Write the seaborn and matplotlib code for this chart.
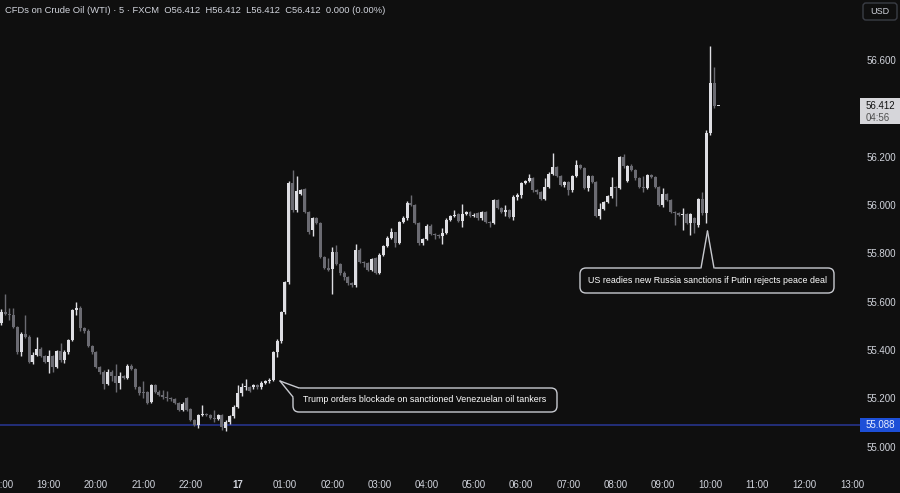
import numpy as np
import pandas as pd
import matplotlib
matplotlib.use("Agg")
import matplotlib.pyplot as plt
import matplotlib.transforms as mtransforms
from matplotlib.patches import FancyBboxPatch, Polygon, Rectangle
import seaborn as sns

# -------------------------
# Data: 5-minute candles, WTI CFD (FXCM)
# -------------------------

opens = [
    55.51, 55.556, 55.55, 55.545, 55.495, 55.39, 55.465, 55.455, 55.35, 55.38,
    55.405, 55.375, 55.35, 55.375, 55.33, 55.395, 55.36, 55.39, 55.44, 55.565,
    55.575, 55.49, 55.48, 55.415, 55.39, 55.33, 55.31, 55.26, 55.31, 55.29,
    55.265, 55.29, 55.285, 55.335, 55.32, 55.245, 55.225, 55.225, 55.185, 55.255,
    55.225, 55.215, 55.205, 55.20, 55.195, 55.18, 55.15, 55.20, 55.155, 55.11,
    55.09, 55.13, 55.135, 55.13, 55.12, 55.115, 55.13, 55.078, 55.10, 55.125,
    55.165, 55.22, 55.245, 55.247, 55.245, 55.255, 55.245, 55.265, 55.27, 55.275,
    55.39, 55.435, 55.555, 55.68, 56.09, 55.98, 56.045, 56.065, 55.97, 55.895,
    55.945, 55.925, 55.785, 55.74, 55.735, 55.805, 55.755, 55.72, 55.70, 55.677,
    55.668, 55.815, 55.765, 55.76, 55.73, 55.78, 55.72, 55.793, 55.83, 55.863,
    55.888, 55.843, 55.93, 55.946, 56.008, 56.0, 55.925, 55.843, 55.86, 55.913,
    55.88, 55.875, 55.87, 55.885, 55.94, 55.953, 55.963, 55.935, 55.963, 55.97,
    55.953, 55.965, 55.945, 55.97, 55.93, 55.925, 56.02, 55.988, 55.97, 55.98,
    55.95, 56.033, 56.04, 56.09, 56.10, 56.11, 56.062, 56.053, 56.025, 56.075,
    56.13, 56.157, 56.12, 56.083, 56.095, 56.062, 56.12, 56.166, 56.153, 56.07,
    56.12, 56.095, 55.955, 55.983, 56.012, 56.037, 56.075, 56.07, 56.20, 56.10,
    56.162, 56.145, 56.11, 56.075, 56.072, 56.124, 56.118, 56.075, 56.0, 56.045,
    56.02, 55.97, 55.968, 55.958, 55.963, 55.925, 55.945, 55.917, 56.025, 55.967,
    56.298, 56.505, 56.412,
]

highs = [
    55.57, 55.63, 55.575, 55.575, 55.50, 55.475, 55.545, 55.46, 55.39, 55.455,
    55.41, 55.38, 55.40, 55.38, 55.40, 55.43, 55.40, 55.445, 55.57, 55.60,
    55.58, 55.495, 55.485, 55.42, 55.395, 55.335, 55.315, 55.32, 55.315, 55.34,
    55.31, 55.295, 55.34, 55.34, 55.325, 55.25, 55.27, 55.23, 55.26, 55.26,
    55.235, 55.235, 55.23, 55.205, 55.20, 55.185, 55.185, 55.205, 55.16, 55.115,
    55.135, 55.17, 55.14, 55.135, 55.15, 55.135, 55.135, 55.11, 55.13, 55.17,
    55.255, 55.265, 55.28, 55.25, 55.26, 55.26, 55.27, 55.275, 55.285, 55.395,
    55.445, 55.56, 55.685, 56.10, 56.145, 56.12, 56.065, 56.07, 55.975, 55.95,
    55.95, 55.93, 55.79, 55.78, 55.825, 55.835, 55.76, 55.725, 55.705, 55.68,
    55.84, 55.82, 55.77, 55.765, 55.78, 55.785, 55.80, 55.835, 55.87, 55.905,
    55.89, 55.935, 55.955, 56.015, 56.04, 56.005, 55.93, 55.865, 55.92, 55.92,
    55.885, 55.88, 55.905, 55.945, 55.96, 55.98, 55.965, 56.005, 55.975, 55.975,
    55.965, 55.97, 55.975, 55.975, 55.935, 56.025, 56.025, 55.99, 56.0, 55.985,
    56.04, 56.05, 56.095, 56.105, 56.13, 56.115, 56.066, 56.058, 56.11, 56.135,
    56.215, 56.16, 56.125, 56.10, 56.10, 56.125, 56.185, 56.17, 56.158, 56.125,
    56.125, 56.10, 56.008, 56.017, 56.04, 56.115, 56.078, 56.205, 56.21, 56.165,
    56.17, 56.15, 56.115, 56.12, 56.13, 56.13, 56.122, 56.08, 56.07, 56.05,
    56.025, 55.975, 55.972, 55.988, 55.968, 55.968, 55.95, 56.03, 56.055, 56.31,
    56.66, 56.57, 56.412,
]

lows = [
    55.505, 55.545, 55.525, 55.49, 55.385, 55.375, 55.45, 55.345, 55.34, 55.375,
    55.37, 55.345, 55.305, 55.31, 55.325, 55.35, 55.345, 55.385, 55.435, 55.545,
    55.48, 55.47, 55.41, 55.385, 55.325, 55.30, 55.24, 55.255, 55.27, 55.225,
    55.24, 55.28, 55.28, 55.315, 55.24, 55.215, 55.20, 55.175, 55.18, 55.22,
    55.21, 55.195, 55.19, 55.19, 55.175, 55.145, 55.145, 55.145, 55.105, 55.085,
    55.075, 55.125, 55.125, 55.115, 55.10, 55.11, 55.068, 55.066, 55.095, 55.12,
    55.16, 55.21, 55.235, 55.225, 55.24, 55.24, 55.24, 55.26, 55.265, 55.27,
    55.37, 55.43, 55.55, 55.675, 55.97, 55.97, 56.04, 55.965, 55.88, 55.87,
    55.92, 55.78, 55.735, 55.725, 55.63, 55.75, 55.71, 55.69, 55.668, 55.66,
    55.66, 55.76, 55.745, 55.725, 55.725, 55.715, 55.715, 55.79, 55.825, 55.86,
    55.825, 55.838, 55.925, 55.94, 55.995, 55.92, 55.835, 55.835, 55.855, 55.875,
    55.86, 55.865, 55.84, 55.88, 55.935, 55.95, 55.93, 55.91, 55.958, 55.95,
    55.95, 55.94, 55.94, 55.925, 55.91, 55.92, 55.985, 55.965, 55.955, 55.945,
    55.94, 56.02, 56.03, 56.085, 56.095, 56.055, 56.045, 56.02, 56.02, 56.07,
    56.125, 56.115, 56.078, 56.075, 56.04, 56.055, 56.115, 56.148, 56.065, 56.06,
    56.09, 55.95, 55.942, 55.98, 56.01, 56.03, 55.995, 56.065, 56.155, 56.095,
    56.14, 56.105, 56.07, 56.055, 56.068, 56.11, 56.07, 55.995, 55.99, 56.015,
    55.965, 55.917, 55.953, 55.896, 55.92, 55.876, 55.885, 55.91, 55.96, 55.925,
    56.29, 56.40, 56.412,
]

closes = [
    55.557, 55.55, 55.545, 55.495, 55.39, 55.465, 55.455, 55.35, 55.38, 55.405,
    55.375, 55.35, 55.375, 55.33, 55.395, 55.36, 55.39, 55.44, 55.565, 55.575,
    55.49, 55.48, 55.415, 55.39, 55.33, 55.31, 55.26, 55.31, 55.29, 55.265,
    55.29, 55.285, 55.335, 55.32, 55.245, 55.22, 55.22, 55.18, 55.255, 55.225,
    55.215, 55.205, 55.20, 55.195, 55.18, 55.15, 55.178, 55.15, 55.11, 55.09,
    55.13, 55.135, 55.13, 55.12, 55.115, 55.13, 55.08, 55.10, 55.125, 55.165,
    55.22, 55.245, 55.247, 55.23, 55.255, 55.245, 55.265, 55.27, 55.275, 55.39,
    55.435, 55.555, 55.68, 56.09, 55.98, 56.06, 56.062, 55.97, 55.89, 55.945,
    55.925, 55.785, 55.74, 55.73, 55.805, 55.755, 55.72, 55.70, 55.677, 55.668,
    55.815, 55.765, 55.76, 55.73, 55.775, 55.72, 55.793, 55.83, 55.863, 55.888,
    55.843, 55.93, 55.946, 56.008, 56.0, 55.925, 55.843, 55.86, 55.913, 55.88,
    55.875, 55.87, 55.885, 55.94, 55.953, 55.958, 55.935, 55.963, 55.97, 55.953,
    55.96, 55.945, 55.97, 55.93, 55.925, 56.02, 55.988, 55.97, 55.98, 55.95,
    56.033, 56.04, 56.09, 56.10, 56.11, 56.062, 56.053, 56.025, 56.075, 56.13,
    56.157, 56.12, 56.083, 56.095, 56.062, 56.12, 56.166, 56.153, 56.07, 56.12,
    56.095, 55.955, 55.983, 56.012, 56.037, 56.075, 56.07, 56.20, 56.162, 56.162,
    56.145, 56.11, 56.075, 56.072, 56.124, 56.118, 56.075, 56.0, 56.045, 56.02,
    55.97, 55.966, 55.958, 55.963, 55.925, 55.963, 55.925, 56.025, 55.967, 56.298,
    56.505, 56.412, 56.412,
]

# bar index of each hour mark on the time axis
hour_bars = [0, 12, 24, 36, 48, 60, 72, 84, 96, 108, 120, 132, 144, 156, 168, 180, 192, 204, 216]
hour_labels = ["18:00", "19:00", "20:00", "21:00", "22:00", "17", "01:00", "02:00", "03:00",
               "04:00", "05:00", "06:00", "07:00", "08:00", "09:00", "10:00", "11:00", "12:00", "13:00"]

price_ticks = [55.0, 55.2, 55.4, 55.6, 55.8, 56.0, 56.2, 56.6]

last_price = 56.412
countdown = "04:56"
level_price = 55.088

title = ("CFDs on Crude Oil (WTI) \u00b7 5 \u00b7 FXCM  O56.412  H56.412  "
         "L56.412  C56.412  0.000 (0.00%)")
note_1 = "Trump orders blockade on sanctioned Venezuelan oil tankers"
note_2 = "US readies new Russia sanctions if Putin rejects peace deal"

df = pd.DataFrame({"open": opens, "high": highs, "low": lows, "close": closes})
df["bar"] = np.arange(len(df))
df["up"] = df["close"] >= df["open"]

# -------------------------
# Style
# -------------------------

BG = "#0f0f0f"
TXT = "#d1d4dc"
UP = "#dedee3"
DOWN = "#6b6b72"
EDGE = "#c8cad0"

sns.set_style("dark", {"axes.facecolor": BG, "figure.facecolor": BG})
plt.rcParams["font.family"] = ["Liberation Sans", "DejaVu Sans"]

fig = plt.figure(figsize=(9, 4.93), dpi=100)
ax = fig.add_axes([0, 25 / 493, 860 / 900, 468 / 493])
ax.set_facecolor(BG)

colors = np.where(df["up"], UP, DOWN)

# wicks
ax.vlines(df["bar"], df["low"], df["high"], colors=colors, linewidth=1, zorder=2)

# bodies
body = (df["close"] - df["open"]).abs().clip(lower=0.004)
bottom = df[["open", "close"]].min(axis=1)
ax.bar(df["bar"], body, bottom=bottom, width=0.76, color=colors, linewidth=0, zorder=3)

ax.axhline(level_price, color="#27348a", linewidth=1.2, zorder=1)

ax.set_xlim(-0.38, 218.06)
ax.set_ylim(54.911, 56.849)

ax.set_xticks(hour_bars)
ax.set_xticklabels(hour_labels)
for lab in ax.get_xticklabels():
    if lab.get_text() == "17":
        lab.set_fontweight("bold")
ax.set_yticks(price_ticks)
ax.set_yticklabels([f"{p:.3f}" for p in price_ticks])

ax.yaxis.tick_right()
ax.tick_params(axis="y", length=0, pad=5, labelsize=7, colors=TXT)
ax.tick_params(axis="x", length=0, pad=9, labelsize=7, colors=TXT)
for s in ax.spines.values():
    s.set_visible(False)
ax.grid(False)

# -------------------------
# Overlays in pixel coordinates (x from left, y from top)
# -------------------------

px = mtransforms.Affine2D().scale(1 / 900, -1 / 493).translate(0, 1) + fig.transFigure


def ypix(p):
    return 493 - ax.transData.transform((0, p))[1]


def callout(x0, y0, x1, y1, tip, b1, b2, hide, text):
    box = FancyBboxPatch((x0, y0), x1 - x0, y1 - y0,
                         boxstyle="round,pad=0,rounding_size=6",
                         transform=px, fc=BG, ec=EDGE, lw=1, zorder=5, clip_on=False)
    fig.add_artist(box)
    fig.add_artist(Polygon(hide, closed=True, transform=px, fc=BG, ec="none", zorder=6))
    for b in (b1, b2):
        fig.add_artist(plt.Line2D([tip[0], b[0]], [tip[1], b[1]], transform=px,
                                  color=EDGE, lw=1, zorder=7))
    fig.text((x0 + x1) / 2 / 900, 1 - (y0 + y1) / 2 / 493, text, color="#ffffff",
             fontsize=6.4, ha="center", va="center", zorder=8)


callout(293, 388, 557, 412, (280, 381), (299, 388), (293, 397),
        [(280, 381), (299.5, 388), (299.5, 392), (296, 392), (296, 397.5), (293, 397.5)],
        note_1)

callout(580, 268, 834, 293, (707.5, 231), (701, 268), (714, 268),
        [(700.5, 268), (707.5, 231), (714.5, 268), (714.5, 270), (700.5, 270)],
        note_2)

# title
fig.text(5 / 900, 1 - 10.5 / 493, title, color=TXT, fontsize=6.75, ha="left", va="center")

# currency box
fig.add_artist(FancyBboxPatch((863, 3), 34, 17, boxstyle="round,pad=0,rounding_size=3",
                              transform=px, fc=BG, ec="#3a3d45", lw=1))
fig.text(880 / 900, 1 - 11.5 / 493, "USD", color=TXT, fontsize=6.5, ha="center", va="center")

# last price label
yl = ypix(last_price)
fig.add_artist(Rectangle((860, yl - 8), 40, 26, transform=px, fc="#d6d6da", ec="none", zorder=5))
fig.text(866 / 900, 1 - yl / 493, f"{last_price:.3f}", color="#131313", fontsize=7,
         ha="left", va="center", zorder=6)
fig.text(866 / 900, 1 - (yl + 12) / 493, countdown, color="#505050", fontsize=7,
         ha="left", va="center", zorder=6)

# level label
yv = ypix(level_price)
fig.add_artist(Rectangle((860, yv - 7), 40, 14, transform=px, fc="#1d4fd7", ec="none", zorder=5))
fig.text(866 / 900, 1 - yv / 493, f"{level_price:.3f}", color="#e8eeff", fontsize=7,
         ha="left", va="center", zorder=6)

plt.savefig("out.png", dpi=100, facecolor=BG)
